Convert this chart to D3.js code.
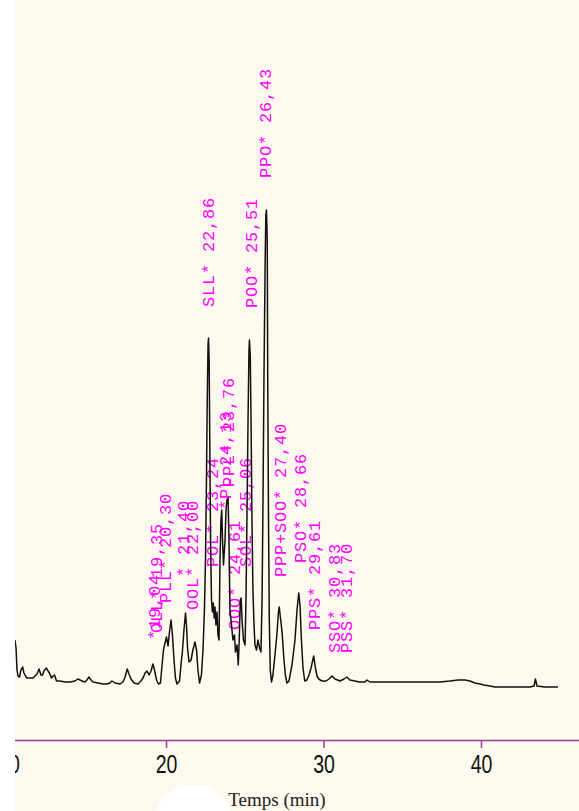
<!DOCTYPE html>
<html><head><meta charset="utf-8">
<script src="https://cdn.jsdelivr.net/npm/d3@7"></script>
<style>body{margin:0;background:#fff}</style></head>
<body>
<svg id="c" width="579" height="811"></svg>
<script>
// Retention time (min) and detector signal (arbitrary units)
const times=[10.41,10.48,10.54,10.60,10.70,10.79,10.90,10.98,11.08,11.17,11.37,11.56,11.68,11.81,11.94,12.06,12.16,12.25,12.41,12.51,12.60,12.73,12.83,12.92,13.05,13.27,13.59,13.90,14.22,14.41,14.54,14.67,14.86,14.98,15.11,15.24,15.37,15.68,16.00,16.25,16.44,16.57,16.76,17.08,17.27,17.40,17.54,17.65,17.78,17.97,18.22,18.41,18.54,18.67,18.79,18.92,19.05,19.17,19.27,19.40,19.52,19.65,19.75,19.84,19.94,20.03,20.13,20.22,20.32,20.41,20.51,20.60,20.70,20.86,20.95,21.05,21.14,21.24,21.30,21.37,21.46,21.59,21.71,21.84,21.94,22.03,22.13,22.25,22.35,22.44,22.51,22.57,22.62,22.67,22.70,22.74,22.78,22.83,22.89,22.95,23.00,23.06,23.11,23.17,23.24,23.30,23.37,23.43,23.49,23.54,23.59,23.65,23.75,23.81,23.87,23.94,24.00,24.06,24.16,24.25,24.35,24.41,24.51,24.59,24.65,24.72,24.77,24.83,24.92,25.02,25.08,25.14,25.21,25.27,25.30,25.35,25.40,25.46,25.52,25.59,25.65,25.75,25.84,25.94,26.03,26.10,26.16,26.22,26.29,26.34,26.38,26.43,26.46,26.51,26.56,26.62,26.70,26.79,26.92,27.05,27.14,27.19,27.27,27.37,27.49,27.59,27.68,27.81,28.00,28.19,28.32,28.43,28.51,28.60,28.70,28.81,28.95,29.08,29.21,29.38,29.49,29.59,29.70,29.90,30.16,30.35,30.54,30.73,31.05,31.30,31.49,31.68,32.00,32.25,32.63,32.76,32.95,33.90,34.86,36.13,37.40,38.03,38.54,38.98,39.30,39.62,39.94,40.19,40.57,40.89,41.84,43.11,43.37,43.46,43.56,44.06,44.89];
const signal=[12,10.4,6,4.8,4.6,6,6.6,5.4,4.8,4.4,4.4,4.4,4.8,5.2,6.2,5,5,5.8,6.4,5.8,5.4,4.4,4.8,5,3.8,3.8,3.6,3.6,3.8,4.2,4,3.8,3.6,4,4.6,4,3.6,3.4,3.2,3.2,3.4,3.8,3.4,3.2,3.6,4.6,6.2,5.2,4.2,3.4,3.2,3.8,4.4,5.4,5.8,5,5.8,7.2,6,4,3.2,3.4,7,10,11.4,12.6,10.8,13.6,16,13,8,4.4,3.2,3.8,7,10,14,17.4,15,10.4,7.6,8,10,11.6,10,6,3.4,5,10,18,28,44,60,71,72.4,68,52,32,20,17.6,19.4,16.4,18.6,15,17.6,13,12,28,36,38,32,27,32,38,40,40.4,32,18,15,12,13,9.6,11,7,12,20,20.4,16,12,11,20,36,56,70,72,69,56,36,22,15,11,10,12,10.4,9.6,20,40,64,86,97,98,92,64,36,16,6,3.6,5,9,13.4,17.6,18.6,16.4,13.6,8,4.8,3.4,3.8,7,12,18,21.4,19,12,6.4,3.8,4,5,6.4,8.8,6.4,4.8,4.2,3.8,3.8,4.2,4.8,4.2,3.8,4.2,4.6,4,3.8,3.6,3.6,4,3.6,3.6,3.6,3.6,3.6,3.8,4,4,3.8,3.4,3.2,3,2.8,2.6,2.6,2.6,2.8,4.2,2.8,2.6,2.6];

// Peak annotations
const labelTexts=["*19,04","OLL* 19,35","PLL* 20,30","* 21,40","OOL* 22,00","SLL* 22,86","POL* 23,24","PPL* 23,76","*PL 24,13","OOO* 24,61","SOL* 25,06","POO* 25,51","PPO* 26,43","PPP+SOO* 27,40","PSO* 28,66","PPS* 29,61","SSO* 30,83","PSS* 31,70"];
const labelTimes=[19.27,19.40,19.94,21.14,21.71,22.67,22.98,24.00,23.80,24.38,25.02,25.46,26.29,27.24,28.51,29.46,30.73,31.49];
const labelLevels=[12,13.4,19.4,24.6,18,78.6,26.6,42.6,38,14,26.6,78.4,104.4,24.6,27.4,14,9.4,9.4];

const tickValues=[10,20,30,40];
const xTitle="Temps (min)";

const W=579,H=811;
const svg=d3.select("#c");
svg.append("rect").attr("width",W).attr("height",H).attr("fill","#fdf9ee");
const defs=svg.append("defs");
defs.append("clipPath").attr("id","clip").append("rect").attr("x",15).attr("y",0).attr("width",W-15).attr("height",H);

const x=d3.scaleLinear().domain([10,46.25]).range([8.5,579.4]);
const y=d3.scaleLinear().domain([0,100]).range([700,200]);

const g=svg.append("g").attr("clip-path","url(#clip)");

// labels
g.selectAll("text.lab").data(labelTexts).join("text")
  .attr("class","lab")
  .attr("transform",(d,i)=>`translate(${x(labelTimes[i])+5.5},${y(labelLevels[i])}) rotate(-90)`)
  .attr("font-family","'Liberation Mono', monospace")
  .attr("font-size",17)
  .attr("letter-spacing",0.8)
  .attr("fill","#ff00ff")
  .text(d=>d);

// trace
const pts=times.map((t,i)=>[t,signal[i]]);
g.append("path").datum(pts)
  .attr("d",d3.line().x(d=>x(d[0])).y(d=>y(d[1])))
  .attr("fill","none").attr("stroke","#111").attr("stroke-width",1.5).attr("stroke-linejoin","round");

// axis
const axis=d3.axisBottom(x).tickValues(tickValues).tickSize(8).tickPadding(10).tickFormat(d3.format("d"));
const ag=svg.append("g").attr("transform","translate(0,740)").call(axis);
ag.select(".domain").attr("stroke","#9a3d96").attr("stroke-width",1.5);
ag.selectAll(".tick line").attr("stroke","#9a3d96").attr("stroke-width",1.5);
ag.selectAll(".tick text")
  .attr("y",null).attr("dy",null)
  .attr("transform","translate(0,33) scale(1,1.28)")
  .attr("font-family","'Liberation Sans', Arial, sans-serif").attr("font-size",19.5).attr("fill","#111");

// white left strip & bottom blob
svg.append("rect").attr("x",0).attr("y",0).attr("width",15).attr("height",H).attr("fill","#fff");
svg.append("ellipse").attr("cx",193).attr("cy",816).attr("rx",37).attr("ry",31).attr("fill","#fff");

svg.append("text").attr("x",277).attr("y",806).attr("text-anchor","middle")
  .attr("font-family","'Liberation Serif', 'Times New Roman', serif").attr("font-size",19).attr("fill","#222").text(xTitle);
</script>
</body></html>
